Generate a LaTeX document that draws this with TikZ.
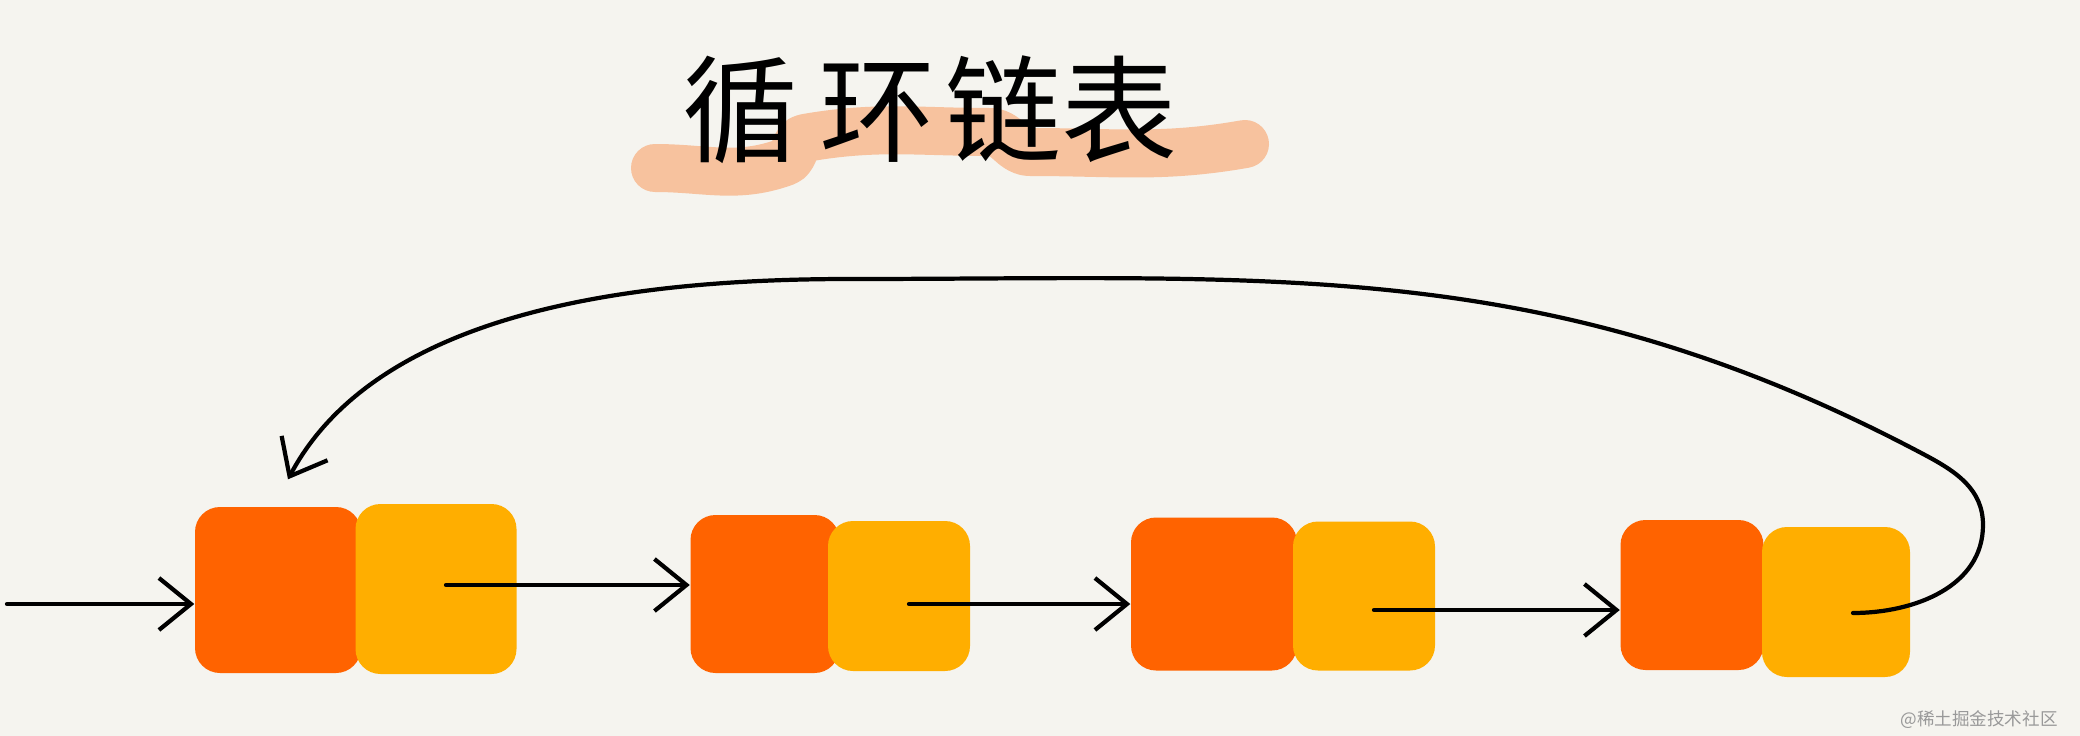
\documentclass[tikz,border=0pt]{standalone}
\usepackage{fontspec}
\usepackage{tikz}
\usetikzlibrary{
    positioning,
    arrows.meta
}
\newfontfamily\cjk{Noto Sans CJK SC}
\definecolor{paper}{HTML}{F5F4EF}
\definecolor{dataorange}{HTML}{FF6300}
\definecolor{nextyellow}{HTML}{FFAE00}
\definecolor{brush}{HTML}{F8B68A}
\tikzset{
    >={Straight Barb[length=3.2mm,width=5.2mm]},
    cell/.style={
        rectangle,
        rounded corners=2.5mm,
        inner sep=0pt
    },
    datacell/.style={
        cell,
        fill=dataorange
    },
    nextcell/.style={
        cell,
        fill=nextyellow
    },
    link/.style={
        ->,
        line width=1.2pt,
        line cap=round
    }
}
\begin{document}
\begin{tikzpicture}[
    line join=round
]

    % Fondo
    \fill[paper] (0,0) rectangle (20.8,-7.36);
    \useasboundingbox (0,0) rectangle (20.8,-7.36);

    % Titulo
    \draw[brush, line width=0.48cm, line cap=round, opacity=0.8]
        (6.55,-1.68) to[out=0,in=200] (7.85,-1.62)
        to[out=20,in=190] (8.05,-1.38) to[out=10,in=180] (9.9,-1.32)
        to[out=0,in=180] (10.3,-1.52) to[out=0,in=190] (12.45,-1.44);
    \node (title) at (9.3,-1.1)
        {\cjk\fontsize{33}{34}\selectfont 循\hspace{0.22cm}环\hspace{0.1cm}链表};

    % Nodos
    \node[datacell, minimum width=1.66cm, minimum height=1.66cm] (d1) at (2.78,-5.90)  {};
    \node[nextcell, minimum width=1.61cm, minimum height=1.70cm] (p1) at (4.36,-5.89)  {};

    \node[datacell, minimum width=1.49cm, minimum height=1.58cm] (d2) at (7.65,-5.94)  {};
    \node[nextcell, minimum width=1.42cm, minimum height=1.50cm] (p2) at (8.99,-5.96)  {};

    \node[datacell, minimum width=1.66cm, minimum height=1.53cm] (d3) at (12.14,-5.94) {};
    \node[nextcell, minimum width=1.42cm, minimum height=1.49cm] (p3) at (13.64,-5.96) {};

    \node[datacell, minimum width=1.43cm, minimum height=1.50cm] (d4) at (16.92,-5.95) {};
    \node[nextcell, minimum width=1.48cm, minimum height=1.50cm] (p4) at (18.36,-6.02) {};

    % Entrada
    \coordinate (head) at (0.07,-6.04);

    % Enlaces
    \draw[link] (head) -- (head -| d1.west);
    \draw[link] ([xshift=0.1cm,yshift=0.04cm]p1.center) -- ([yshift=0.04cm]p1.center -| d2.west);
    \draw[link] ([xshift=0.1cm,yshift=-0.08cm]p2.center) -- ([yshift=-0.08cm]p2.center -| d3.west);
    \draw[link] ([xshift=0.1cm,yshift=-0.14cm]p3.center) -- ([yshift=-0.14cm]p3.center -| d4.west);

    % Vuelta al primero
    \coordinate (turn) at (19.83,-5.25);
    \coordinate (bend) at (19.25,-4.55);
    \coordinate (top)  at (8.5,-2.79);
    \draw[link]
        ([xshift=0.17cm,yshift=-0.11cm]p4.center) to[out=0,in=-90] (turn)
        to[out=90,in=-28] (bend)
        to[out=152,in=0] (top)
        to[out=180,in=62, looseness=0.85] ([xshift=0.1cm,yshift=0.27cm]d1.north);

    % Marca
    \node[text=black!40, anchor=east] (mark) at (20.7,-7.2)
        {\cjk\fontsize{5}{6}\selectfont @稀土掘金技术社区};

\end{tikzpicture}
\end{document}
